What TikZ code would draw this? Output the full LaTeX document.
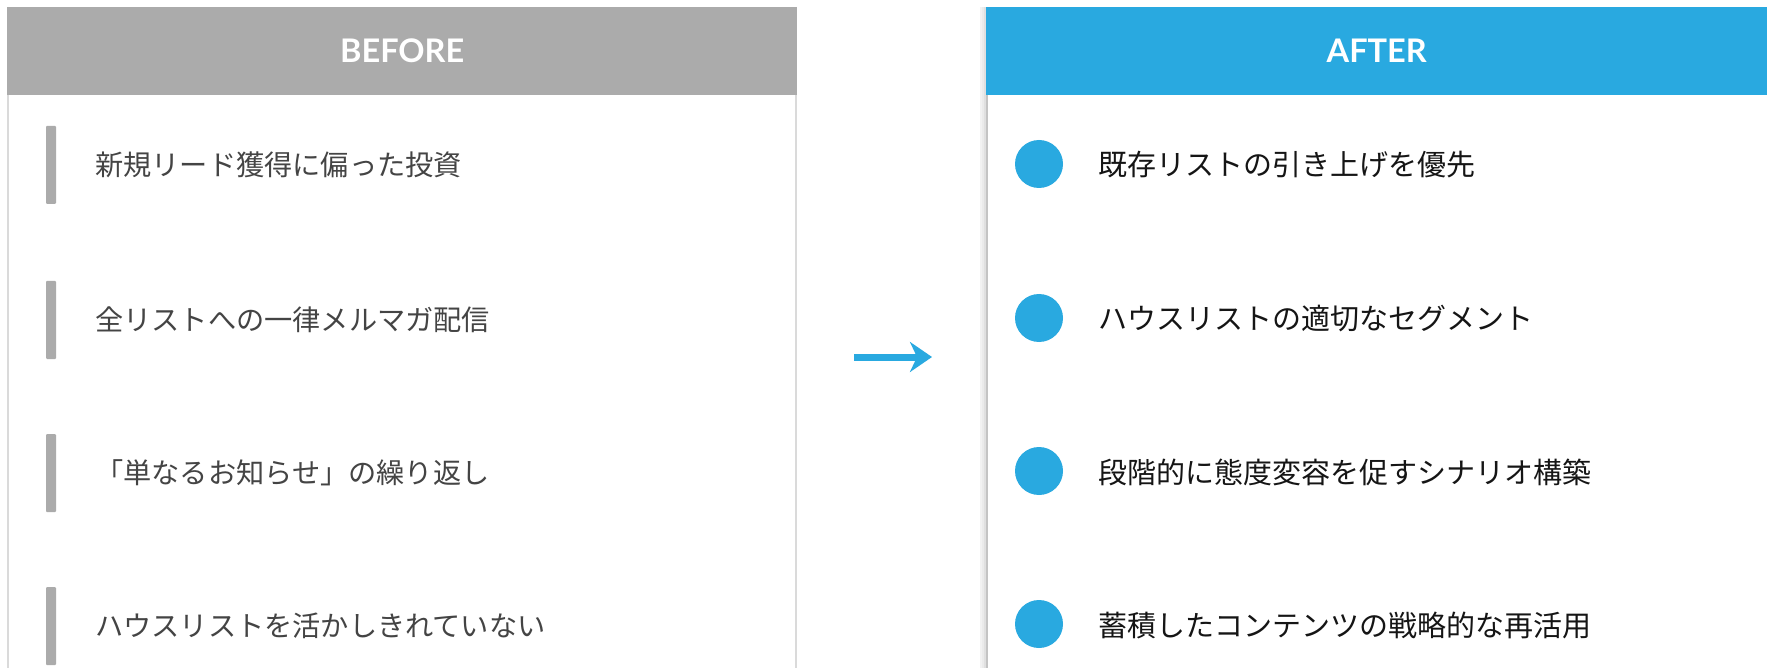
\documentclass[tikz,border=0pt]{standalone}
\usepackage{fontspec}
\setmainfont{Noto Sans CJK JP}
\newfontfamily\hdrfont{Lato}
\usetikzlibrary{arrows.meta}
\definecolor{hdrgray}{HTML}{ABABAB}
\definecolor{hdrblue}{HTML}{29A9E0}
\definecolor{edgegray}{HTML}{DADADA}
\definecolor{edgedark}{HTML}{C4C4C4}
\definecolor{txtgray}{HTML}{444444}
\definecolor{txtdark}{HTML}{151515}
\tikzset{
  header/.style={anchor=north west, inner sep=0pt, minimum height=88pt, text=white, font=\hdrfont\bfseries\fontsize{32.5}{36}\selectfont},
  bar/.style={fill=hdrgray, minimum width=10pt, minimum height=78pt, inner sep=0pt, rounded corners=1pt},
  dot/.style={circle, fill=hdrblue, minimum size=48pt, inner sep=0pt},
  befitem/.style={anchor=west, inner sep=0pt, text=txtgray, font=\fontsize{28.2}{31}\selectfont},
  aftitem/.style={anchor=west, inner sep=0pt, text=txtdark, font=\fontsize{29}{32}\selectfont},
  arr/.style={draw=hdrblue, line width=7pt, -{Stealth[length=22pt, width=30pt, inset=7pt]}}
}
\begin{document}
\begin{tikzpicture}[x=1pt,y=-1pt]
\useasboundingbox (0,0) rectangle (1767,668);
\fill[white] (0,0) rectangle (1767,668);
% left panel edges
\draw[edgegray, line width=1.5pt] (8,7) -- (8,668);
\draw[edgegray, line width=2pt] (796,7) -- (796,668);
% right panel shadow and edge
\foreach \d/\o in {6/0.05,4/0.08,2/0.12}{\draw[black, opacity=\o, line width=2pt] (987-\d,7) -- (987-\d,668);}
\draw[edgedark, line width=2pt] (987,7) -- (987,668);
% headers
\node[header, fill=hdrgray, minimum width=790pt] (bhead) at (7,7) {BEFORE};
\node[header, fill=hdrblue, minimum width=781pt] (ahead) at (986,7) {AFTER};
% before items
\node[bar] (b1) at (51,165) {};
\node[bar] (b2) at (51,320) {};
\node[bar] (b3) at (51,473) {};
\node[bar] (b4) at (51,626) {};
\node[befitem] (bt1) at (95,165) {新規リード獲得に偏った投資};
\node[befitem] (bt2) at (95,320) {全リストへの一律メルマガ配信};
\node[befitem] (bt3) at (95,473) {「単なるお知らせ」の繰り返し};
\node[befitem] (bt4) at (95,626) {ハウスリストを活かしきれていない};
% after items
\node[dot] (a1) at (1039,164) {};
\node[dot] (a2) at (1039,318) {};
\node[dot] (a3) at (1039,471) {};
\node[dot] (a4) at (1039,624) {};
\node[aftitem] (at1) at (1098,165) {既存リストの引き上げを優先};
\node[aftitem] (at2) at (1098,319) {ハウスリストの適切なセグメント};
\node[aftitem] (at3) at (1098,472) {段階的に態度変容を促すシナリオ構築};
\node[aftitem] (at4) at (1098,625) {蓄積したコンテンツの戦略的な再活用};
% arrow
\coordinate (arrS) at (854,357);
\coordinate (arrE) at (932,357);
\draw[arr] (arrS) -- (arrE);
\end{tikzpicture}
\end{document}
